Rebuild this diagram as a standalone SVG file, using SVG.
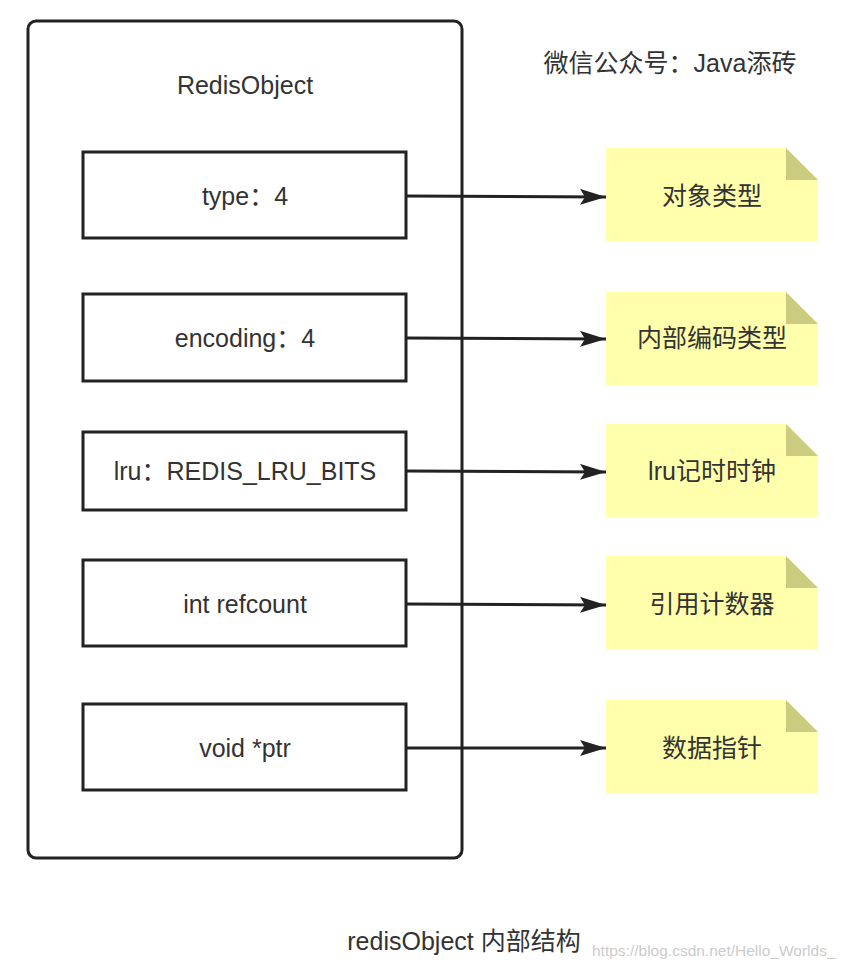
<svg xmlns="http://www.w3.org/2000/svg" width="852" height="970" viewBox="0 0 852 970">
<style>
text{font-family:"Liberation Sans","Noto Sans CJK SC",sans-serif;fill:#333;font-size:25px;text-anchor:middle}
.f{fill:#fff;stroke:#222;stroke-width:3}
.n{fill:#ffff9e;fill-opacity:0.85}
.c{fill:#cccc80}
.l{stroke:#222;stroke-width:3;fill:none;marker-end:url(#a)}
</style>
<defs><marker id="a" markerUnits="userSpaceOnUse" markerWidth="28" markerHeight="16" refX="26" refY="8" orient="auto"><path d="M0,0L26,8L0,16L5,8Z" fill="#222"/></marker></defs>
<rect width="852" height="970" fill="#fff"/>
<g id="outer"><rect x="28" y="21" width="434" height="837" rx="8" class="f"/><text x="245" y="94">RedisObject</text></g>
<g id="b1"><rect x="83" y="152" width="323" height="86" class="f"/><text x="245" y="205">type：4</text></g>
<g id="b2"><rect x="83" y="294" width="323" height="87" class="f"/><text x="245" y="347">encoding：4</text></g>
<g id="b3"><rect x="83" y="432" width="323" height="78" class="f"/><text x="245" y="480">lru：REDIS_LRU_BITS</text></g>
<g id="b4"><rect x="83" y="560" width="323" height="86" class="f"/><text x="245" y="613">int refcount</text></g>
<g id="b5"><rect x="83" y="704" width="323" height="86" class="f"/><text x="245" y="757">void *ptr</text></g>
<g id="n1"><path d="M606,148H786L818,180V241H606Z" class="n"/><path d="M786,148L818,180H786Z" class="c"/><text x="712" y="205">对象类型</text></g>
<g id="n2"><path d="M606,292H786L818,324V385H606Z" class="n"/><path d="M786,292L818,324H786Z" class="c"/><text x="712" y="347">内部编码类型</text></g>
<g id="n3"><path d="M606,424H786L818,456V517H606Z" class="n"/><path d="M786,424L818,456H786Z" class="c"/><text x="712" y="480">lru记时时钟</text></g>
<g id="n4"><path d="M606,556H786L818,588V649H606Z" class="n"/><path d="M786,556L818,588H786Z" class="c"/><text x="712" y="613">引用计数器</text></g>
<g id="n5"><path d="M606,700H786L818,732V793H606Z" class="n"/><path d="M786,700L818,732H786Z" class="c"/><text x="712" y="757">数据指针</text></g>
<g id="connectors">
<path d="M406,196L606,197" class="l"/>
<path d="M406,338L606,339" class="l"/>
<path d="M406,471L606,472" class="l"/>
<path d="M406,604L606,605" class="l"/>
<path d="M406,748L606,748" class="l"/>
</g>
<text x="670" y="72">微信公众号：Java添砖</text>
<text x="464" y="950">redisObject 内部结构</text>
<text x="592" y="956" style="font-size:15.5px;fill:#ccc;text-anchor:start">https://blog.csdn.net/Hello_Worlds_</text>
</svg>
